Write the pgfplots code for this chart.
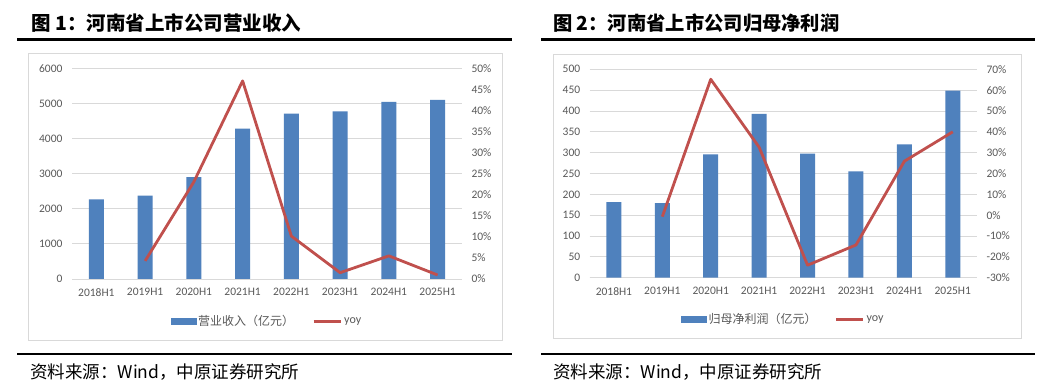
\documentclass[border=0pt]{standalone}
\usepackage{fontspec}
\usepackage{pgfplots}
\pgfplotsset{compat=1.18}
\setmainfont{Carlito}
\newfontfamily\cjk{Noto Sans CJK SC}
\definecolor{barblue}{HTML}{4F81BD}
\definecolor{linered}{HTML}{C0504D}
\definecolor{gridgray}{HTML}{D9D9D9}
\definecolor{labgray}{HTML}{595959}
\newcommand{\tickfont}{\fontsize{11.5}{12}\selectfont}
\newcommand{\legfont}{\fontsize{12}{13}\selectfont}
\pgfplotsset{
  common/.style={
    scale only axis, anchor=south west,
    xmin=-0.5, xmax=7.5,
    major tick length=0pt,
    tick label style={font=\tickfont, text=labgray},
    scaled y ticks=false,
    /pgf/number format/assume math mode=true,
  },
  barax/.style={
    common,
    axis y line*=left, axis x line*=bottom,
    xtick={0,...,7},
    xticklabels={2018H1,2019H1,2020H1,2021H1,2022H1,2023H1,2024H1,2025H1},
    xticklabel style={yshift=-6pt},
    ymajorgrids, grid style={gridgray, line width=0.9pt},
    y axis line style={draw=none},
    x axis line style={gridgray, line width=0.9pt},
    yticklabel style={xshift=-6pt},
    yticklabel={\pgfmathparse{int(round(\tick))}\pgfmathresult},
  },
  lineax/.style={
    common,
    axis y line*=right, axis x line=none,
    y axis line style={draw=none},
    yticklabel style={xshift=6pt},
    yticklabel={\pgfmathparse{int(round(\tick))}\pgfmathresult\%},
    legend columns=2,
    legend style={draw=none, fill=none, at={(0.5,-0.2)}, anchor=center,
      font=\legfont, text=labgray,
      /tikz/every even column/.append style={column sep=16pt}},
  },
}
\begin{document}
\begin{tikzpicture}[x=1pt,y=1pt]
\useasboundingbox (0pt,0pt) rectangle (1056pt,385pt);
\fill[white] (0pt,0pt) rectangle (1056pt,385pt);
% titles and rules
\node[anchor=west, inner sep=0pt] at (31pt,362pt) {\cjk\bfseries\fontsize{19.5}{21}\selectfont 图 1：河南省上市公司营业收入};
\node[anchor=west, inner sep=0pt] at (553pt,362pt) {\cjk\bfseries\fontsize{19.3}{21}\selectfont 图 2：河南省上市公司归母净利润};
\draw[line width=2.6pt] (17pt,345.5pt) -- (512pt,345.5pt);
\draw[line width=2.6pt] (541pt,345.5pt) -- (1035pt,345.5pt);
\draw[line width=2.6pt] (17pt,31pt) -- (512pt,31pt);
\draw[line width=2.6pt] (541pt,31pt) -- (1035pt,31pt);
\node[anchor=west, inner sep=0pt] at (30pt,13pt) {\cjk\fontsize{17.5}{18}\selectfont 资料来源：Wind，中原证券研究所};
\node[anchor=west, inner sep=0pt] at (553pt,13pt) {\cjk\fontsize{17.5}{18}\selectfont 资料来源：Wind，中原证券研究所};
% boxes
\draw[gridgray, line width=0.9pt] (28pt,45pt) rectangle (502pt,332pt);
\draw[gridgray, line width=0.9pt] (553pt,47pt) rectangle (1021pt,331pt);

% ---------- Panel 1 ----------
\begin{axis}[barax, at={(72pt,106pt)}, width=390pt, height=210.3pt,
  ymin=0, ymax=6000, ytick={0,1000,...,6000}]
\addplot[ybar, bar width=15pt, fill=barblue, draw=none] coordinates {
  (0,2275) (1,2380) (2,2905) (3,4290) (4,4720) (5,4780) (6,5055) (7,5110)};
\end{axis}
\begin{axis}[lineax, at={(72pt,106pt)}, width=390pt, height=210.3pt,
  ymin=0, ymax=50, ytick={0,5,...,50}]
\addlegendimage{legend image code/.code={\fill[barblue] (0pt,-3pt) rectangle (25pt,3pt);}}
\addlegendentry{\cjk 营业收入（亿元）}
\addplot[linered, line width=2.8pt, line join=round, mark=none,
  legend image code/.code={\draw[linered, line width=3pt] (0pt,0pt) -- (27pt,0pt);}] coordinates {
  (1,4.3) (2,23.1) (3,47.1) (4,10.2) (5,1.5) (6,5.5) (7,0.95)};
\addlegendentry{yoy}
\end{axis}

% ---------- Panel 2 ----------
\begin{axis}[barax, at={(589.7pt,107.3pt)}, width=387.3pt, height=208.4pt,
  ymin=0, ymax=500, ytick={0,50,...,500}]
\addplot[ybar, bar width=15pt, fill=barblue, draw=none] coordinates {
  (0,181.5) (1,179) (2,296) (3,393) (4,297.5) (5,255) (6,320) (7,449)};
\end{axis}
\begin{axis}[lineax, at={(589.7pt,107.3pt)}, width=387.3pt, height=208.4pt,
  ymin=-30, ymax=70, ytick={-30,-20,...,70}]
\addlegendimage{legend image code/.code={\fill[barblue] (0pt,-3pt) rectangle (25pt,3pt);}}
\addlegendentry{\cjk 归母净利润（亿元）}
\addplot[linered, line width=2.8pt, line join=round, mark=none,
  legend image code/.code={\draw[linered, line width=3pt] (0pt,0pt) -- (27pt,0pt);}] coordinates {
  (1,-0.7) (2,65.2) (3,32.6) (4,-24) (5,-14.3) (6,25.9) (7,40)};
\addlegendentry{yoy}
\end{axis}
\end{tikzpicture}
\end{document}
